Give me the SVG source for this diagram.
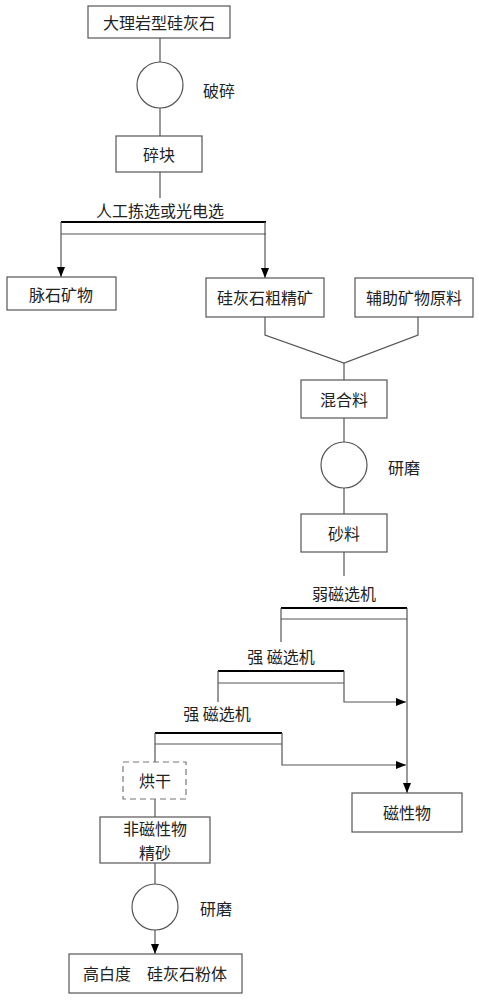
<svg xmlns="http://www.w3.org/2000/svg" width="479" height="1000" viewBox="0 0 479 1000">
<style>
.box{fill:#fff;stroke:#555;stroke-width:1.2}
.dash{fill:#fff;stroke:#777;stroke-width:1.2;stroke-dasharray:6,4}
.c{fill:#fff;stroke:#555;stroke-width:1.2}
.ln{fill:none;stroke:#555;stroke-width:1.2}
.bar{fill:none;stroke:#000;stroke-width:2.2}
.ar{fill:none;stroke:#555;stroke-width:1.2;marker-end:url(#ah)}
text{font-family:"Noto Sans CJK SC","Liberation Sans",sans-serif;font-size:16px;fill:#222;dominant-baseline:central}
.m{text-anchor:middle}
</style>
<defs>
<marker id="ah" markerWidth="10" markerHeight="10" viewBox="0 0 10 10" refX="10" refY="5" orient="auto" markerUnits="userSpaceOnUse">
<path d="M0,1 L10,5 L0,9 Z" fill="#000"/>
</marker>
</defs>
<g id="connectors">
<line class="ln" x1="160" y1="38" x2="160" y2="62"/>
<line class="ln" x1="160" y1="108" x2="160" y2="136"/>
<line class="ln" x1="160" y1="172" x2="160" y2="198"/>
<line class="bar" x1="61" y1="222" x2="266" y2="222"/>
<line class="ln" x1="61" y1="234" x2="266" y2="234"/>
<line class="ar" x1="61" y1="222" x2="61" y2="277"/>
<line class="ar" x1="265" y1="222" x2="265" y2="278"/>
<polyline class="ln" points="265,317 265,335 344,363 418,335 418,317"/>
<line class="ln" x1="344" y1="363" x2="344" y2="380"/>
<line class="ln" x1="344" y1="418" x2="344" y2="443"/>
<line class="ln" x1="344" y1="488" x2="344" y2="514"/>
<line class="ln" x1="344" y1="552" x2="344" y2="576"/>
<line class="bar" x1="281" y1="608" x2="407" y2="608"/>
<line class="ln" x1="281" y1="619" x2="407" y2="619"/>
<line class="ln" x1="281" y1="608" x2="281" y2="642"/>
<line class="ar" x1="407" y1="608" x2="407" y2="793"/>
<line class="bar" x1="218" y1="671" x2="344" y2="671"/>
<line class="ln" x1="218" y1="683" x2="344" y2="683"/>
<line class="ln" x1="218" y1="671" x2="218" y2="702"/>
<polyline class="ar" points="344,671 344,702 406,702"/>
<line class="bar" x1="155" y1="733" x2="282" y2="733"/>
<line class="ln" x1="155" y1="744" x2="282" y2="744"/>
<line class="ln" x1="155" y1="733" x2="155" y2="762"/>
<polyline class="ar" points="282,733 282,765 406,765"/>
<line class="ln" x1="155" y1="799" x2="155" y2="817"/>
<line class="ln" x1="155" y1="863" x2="155" y2="885"/>
<line class="ar" x1="155" y1="930" x2="155" y2="954"/>
</g>
<g id="labels">
<text x="203" y="90">破碎</text>
<text class="m" x="160" y="210">人工拣选或光电选</text>
<text x="388" y="467">研磨</text>
<text class="m" x="344" y="593">弱磁选机</text>
<text class="m" x="281" y="656">强 磁选机</text>
<text class="m" x="217" y="713">强 磁选机</text>
<text x="200" y="908">研磨</text>
</g>
<g id="n1"><rect class="box" x="88" y="6" width="142" height="32"/><text class="m" x="159" y="22">大理岩型硅灰石</text></g>
<g id="crush1"><circle class="c" cx="160" cy="85" r="23"/></g>
<g id="n2"><rect class="box" x="116" y="136" width="86" height="36"/><text class="m" x="159" y="154">碎块</text></g>
<g id="n3"><rect class="box" x="7" y="277" width="109" height="33"/><text class="m" x="61" y="294">脉石矿物</text></g>
<g id="n4"><rect class="box" x="206" y="278" width="118" height="39"/><text class="m" x="265" y="297">硅灰石粗精矿</text></g>
<g id="n5"><rect class="box" x="355" y="278" width="118" height="39"/><text class="m" x="414" y="297">辅助矿物原料</text></g>
<g id="n6"><rect class="box" x="301" y="380" width="86" height="38"/><text class="m" x="344" y="399">混合料</text></g>
<g id="grind1"><circle class="c" cx="344" cy="465" r="23"/></g>
<g id="n7"><rect class="box" x="301" y="514" width="86" height="38"/><text class="m" x="344" y="533">砂料</text></g>
<g id="n8"><rect class="dash" x="123" y="762" width="63" height="37"/><text class="m" x="155" y="780">烘干</text></g>
<g id="n9"><rect class="box" x="352" y="793" width="110" height="39"/><text class="m" x="407" y="812">磁性物</text></g>
<g id="n10"><rect class="box" x="100" y="817" width="110" height="46"/><text class="m" x="155" y="828">非磁性物</text><text class="m" x="155" y="852">精砂</text></g>
<g id="grind2"><circle class="c" cx="155" cy="907" r="23"/></g>
<g id="n11"><rect class="box" x="69" y="954" width="173" height="39"/><text class="m" x="155" y="973">高白度　硅灰石粉体</text></g>
</svg>
